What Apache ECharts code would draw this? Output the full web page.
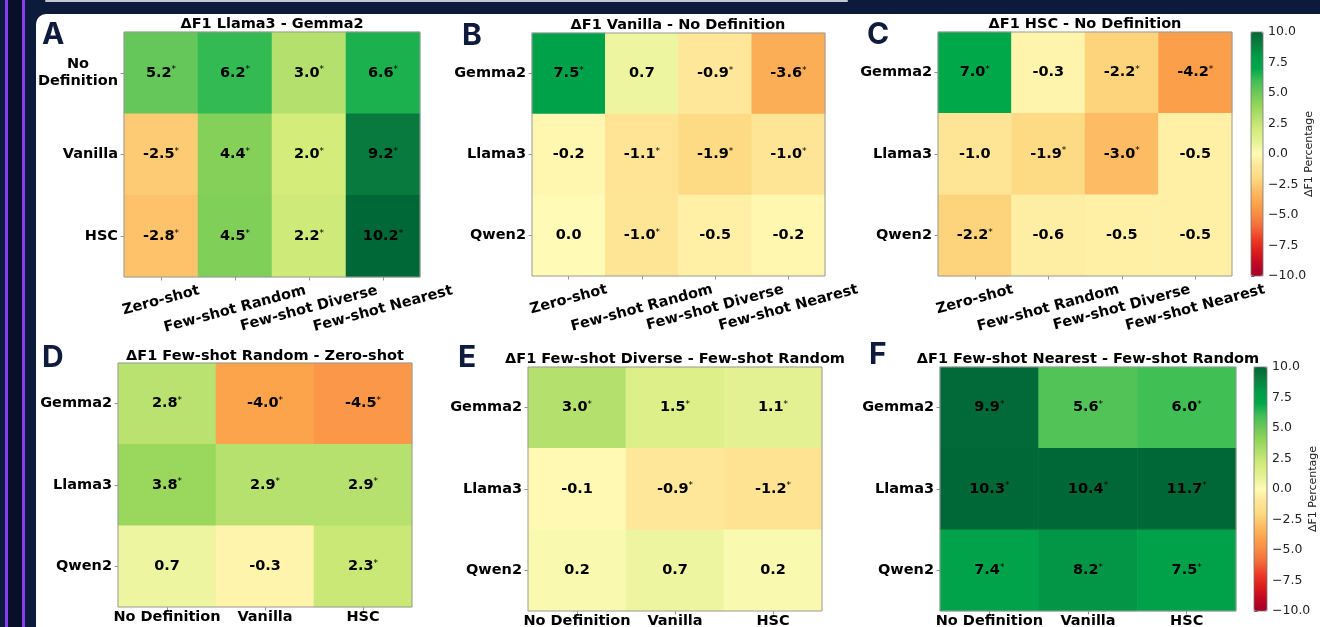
<!DOCTYPE html>
<html>
<head>
<meta charset="utf-8">
<script src="https://cdn.jsdelivr.net/npm/echarts@6.0.0/dist/echarts.min.js"></script>
<style>
html,body{margin:0;padding:0;width:1320px;height:627px;overflow:hidden;background:#0c1a3b;}
.vl{position:absolute;top:0;height:627px;}
#panel{position:absolute;left:36px;top:14px;right:0;bottom:0;background:#ffffff;border-top-left-radius:10px;}
#topline{position:absolute;left:45px;top:0;width:803px;height:2px;background:#c4c7cf;border-radius:1px;}
#chart{position:absolute;left:0;top:0;width:1320px;height:627px;}
</style>
</head>
<body>
<div class="vl" style="left:5px;width:3px;background:#8a3cf0"></div>
<div class="vl" style="left:8px;width:14px;background:#080f2b"></div>
<div class="vl" style="left:22px;width:3px;background:#8a3cf0"></div>
<div id="topline"></div>
<div id="panel"></div>
<div id="chart"></div>
<script>
// ---------------- DATA ----------------
const promptCols = ['Zero-shot', 'Few-shot Random', 'Few-shot Diverse', 'Few-shot Nearest'];
const definitionRows = ['No Definition', 'Vanilla', 'HSC'];
const modelRows = ['Gemma2', 'Llama3', 'Qwen2'];
const definitionCols = ['No Definition', 'Vanilla', 'HSC'];

const titleA = 'ΔF1 Llama3 - Gemma2';
const titleB = 'ΔF1 Vanilla - No Definition';
const titleC = 'ΔF1 HSC - No Definition';
const titleD = 'ΔF1 Few-shot Random - Zero-shot';
const titleE = 'ΔF1 Few-shot Diverse - Few-shot Random';
const titleF = 'ΔF1 Few-shot Nearest - Few-shot Random';

const valuesA = [[5.2, 6.2, 3.0, 6.6], [-2.5, 4.4, 2.0, 9.2], [-2.8, 4.5, 2.2, 10.2]];
const signifA = [[1, 1, 1, 1], [1, 1, 1, 1], [1, 1, 1, 1]];
const valuesB = [[7.5, 0.7, -0.9, -3.6], [-0.2, -1.1, -1.9, -1.0], [0.0, -1.0, -0.5, -0.2]];
const signifB = [[1, 0, 1, 1], [0, 1, 1, 1], [0, 1, 0, 0]];
const valuesC = [[7.0, -0.3, -2.2, -4.2], [-1.0, -1.9, -3.0, -0.5], [-2.2, -0.6, -0.5, -0.5]];
const signifC = [[1, 0, 1, 1], [0, 1, 1, 0], [1, 0, 0, 0]];
const valuesD = [[2.8, -4.0, -4.5], [3.8, 2.9, 2.9], [0.7, -0.3, 2.3]];
const signifD = [[1, 1, 1], [1, 1, 1], [0, 0, 1]];
const valuesE = [[3.0, 1.5, 1.1], [-0.1, -0.9, -1.2], [0.2, 0.7, 0.2]];
const signifE = [[1, 1, 1], [0, 1, 1], [0, 0, 0]];
const valuesF = [[9.9, 5.6, 6.0], [10.3, 10.4, 11.7], [7.4, 8.2, 7.5]];
const signifF = [[1, 1, 1], [1, 1, 1], [1, 1, 1]];

const colorbarMin = -10;
const colorbarMax = 10;
const colorbarStep = 2.5;
const colorbarLabel = 'ΔF1 Percentage';
// red-yellow-green palette, one colour per unit from -10 to 10 (as it appears in the picture)
const rdylgn = ['#a50026', '#c00824', '#dc1c1c', '#ec3a28', '#f46a3a', '#f88a44', '#fca44c',
                '#fdbc64', '#fdda82', '#fee596', '#fffbb6', '#e5f296', '#d4ec7a', '#b4e06e',
                '#92d658', '#6ec85a', '#40bf55', '#00a84a', '#009c48', '#0a7f3e', '#006837'];

// ---------------- LAYOUT ----------------
const FONT = '"DejaVu Sans", "Liberation Sans", sans-serif';
const FS = 14.5;
const panels = [
  {letter: 'A', title: titleA, rows: definitionRows, cols: promptCols, vals: valuesA, sig: signifA,
   grid: [124, 32, 296, 245], rotate: true, wrapRows: true, titleAt: [272, 17], letterAt: [42, 20]},
  {letter: 'B', title: titleB, rows: modelRows, cols: promptCols, vals: valuesB, sig: signifB,
   grid: [532, 33, 293, 243], rotate: true, titleAt: [678, 18], letterAt: [462, 21]},
  {letter: 'C', title: titleC, rows: modelRows, cols: promptCols, vals: valuesC, sig: signifC,
   grid: [938, 32, 294, 244], rotate: true, titleAt: [1085, 17], letterAt: [867, 20]},
  {letter: 'D', title: titleD, rows: modelRows, cols: definitionCols, vals: valuesD, sig: signifD,
   grid: [118, 363, 294, 244], rotate: false, titleAt: [265, 349], letterAt: [42, 343]},
  {letter: 'E', title: titleE, rows: modelRows, cols: definitionCols, vals: valuesE, sig: signifE,
   grid: [528, 367, 294, 244], rotate: false, titleAt: [675, 352], letterAt: [458, 343]},
  {letter: 'F', title: titleF, rows: modelRows, cols: definitionCols, vals: valuesF, sig: signifF,
   grid: [940, 367, 296, 244], rotate: false, titleAt: [1088, 352], letterAt: [869, 340]}
];
const colorbars = [
  {grid: [1251, 32, 12, 244], series: [0, 1, 2], nameGap: 41},
  {grid: [1254, 367, 13, 244], series: [3, 4, 5], nameGap: 41}
];

const measureCtx = document.createElement('canvas').getContext('2d');
measureCtx.font = 'bold ' + FS + 'px "DejaVu Sans"';
const TH = 15;
const ROT = 15 * Math.PI / 180;

const option = {
  animation: false,
  backgroundColor: 'transparent',
  title: [], grid: [], xAxis: [], yAxis: [], series: [], visualMap: []
};

const baseText = {fontFamily: FONT, fontSize: FS, fontWeight: 'bold', color: '#000'};

panels.forEach((p, i) => {
  option.grid.push({left: p.grid[0], top: p.grid[1], width: p.grid[2], height: p.grid[3],
    show: true, z: 10, borderColor: '#9a9a9a', borderWidth: 1, backgroundColor: 'transparent',
    containLabel: false, outerBoundsMode: 'none'});
  const rich = {};
  p.cols.forEach((c, k) => {
    const w = measureCtx.measureText(c).width;
    let pad = [0, 0, 0, 0];
    if (p.rotate) {
      const pt = Math.max(0, (w * Math.sin(ROT) * Math.cos(ROT) - TH * Math.sin(ROT) * Math.sin(ROT)) / 2);
      const q = 2 * (pt + TH / 2) * Math.tan(ROT);
      pad = [pt, q, 0, 0];
    }
    rich['r' + k] = Object.assign({}, baseText, {padding: pad});
  });
  option.xAxis.push({
    type: 'category', gridIndex: i, data: p.cols, position: 'bottom',
    axisLine: {show: false}, splitLine: {show: false},
    axisTick: {show: true, alignWithLabel: true, length: 3.5, lineStyle: {color: '#777', width: 0.8}},
    axisLabel: p.rotate
      ? {interval: 0, rotate: 15, align: 'center', verticalAlign: 'top', margin: 6,
         formatter: (v, k) => '{r' + k + '|' + v + '}', rich: rich}
      : Object.assign({interval: 0, margin: 3}, baseText)
  });
  option.yAxis.push({
    type: 'category', gridIndex: i, data: p.rows, inverse: true,
    axisLine: {show: false}, splitLine: {show: false},
    axisTick: {show: true, alignWithLabel: true, length: 3.5, lineStyle: {color: '#777', width: 0.8}},
    axisLabel: Object.assign({interval: 0, margin: 6, align: 'right',
      formatter: p.wrapRows ? (v => v.split(' ').map(s => '{c|' + s + '}').join('\n')) : (v => v),
      rich: {c: Object.assign({}, baseText, {align: 'center', lineHeight: 17})}}, baseText)
  });
  const data = [];
  p.vals.forEach((row, r) => row.forEach((v, c) => data.push([c, r, v, p.sig[r][c]])));
  option.series.push({
    type: 'heatmap', xAxisIndex: i, yAxisIndex: i, data: data, progressive: 0,
    emphasis: {disabled: true},
    label: {
      show: true,
      formatter: prm => '{v|' + prm.value[2].toFixed(1) + '}' + (prm.value[3] ? '{s|*}' : ''),
      rich: {
        v: Object.assign({}, baseText),
        s: {fontFamily: FONT, fontSize: 9, color: '#000', verticalAlign: 'top', padding: [0, 0, 0, 0]}
      }
    }
  });
  option.title.push({text: p.title, left: p.titleAt[0], top: p.titleAt[1], textAlign: 'center', padding: 0,
    textStyle: Object.assign({}, baseText)});
  option.title.push({text: p.letter, left: p.letterAt[0], top: p.letterAt[1], padding: 0,
    textStyle: {fontFamily: 'Inter, Roboto, sans-serif', fontSize: 30, fontWeight: 700, color: '#0f1b3d'}});
});

colorbars.forEach((cb, j) => {
  const gi = panels.length + j;
  option.visualMap.push({
    type: 'continuous', min: colorbarMin, max: colorbarMax, dimension: 2, seriesIndex: cb.series,
    inRange: {color: rdylgn}, calculable: false, orient: 'vertical', hoverLink: false,
    left: cb.grid[0], top: cb.grid[1], itemWidth: cb.grid[2], itemHeight: cb.grid[3],
    padding: 0, text: null, showLabel: false
  });
  option.grid.push({left: cb.grid[0], top: cb.grid[1], width: cb.grid[2], height: cb.grid[3],
    show: true, z: 10, borderColor: '#777', borderWidth: 0.8, backgroundColor: 'transparent',
    containLabel: false, outerBoundsMode: 'none'});
  option.xAxis.push({type: 'value', gridIndex: gi, min: 0, max: 1, show: false});
  option.yAxis.push({
    type: 'value', gridIndex: gi, min: colorbarMin, max: colorbarMax, interval: colorbarStep,
    position: 'right', splitLine: {show: false}, axisLine: {show: false},
    axisTick: {show: true, length: 3.5, lineStyle: {color: '#333', width: 0.8}},
    axisLabel: {margin: 5, fontFamily: FONT, fontSize: 12.5, color: '#222',
      formatter: v => (v < 0 ? '\u2212' : '') + Math.abs(v).toFixed(1)},
    name: colorbarLabel, nameLocation: 'middle', nameRotate: 90, nameGap: cb.nameGap,
    nameMoveOverlap: false,
    nameTextStyle: {fontFamily: FONT, fontSize: 11, color: '#222'}
  });
});

const chart = echarts.init(document.getElementById('chart'), null, {renderer: 'canvas'});
chart.setOption(option);
</script>
</body>
</html>
